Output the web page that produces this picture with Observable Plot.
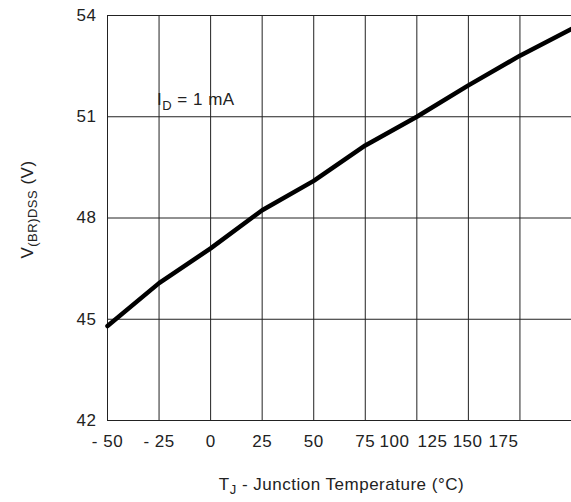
<!DOCTYPE html>
<html><head><meta charset="utf-8">
<script src="https://cdn.jsdelivr.net/npm/d3@7"></script>
<script src="https://cdn.jsdelivr.net/npm/@observablehq/plot@0.6"></script>
<style>body{margin:0;background:#fff}</style>
</head><body><div id="chart"></div>
<script>
const temperature = [-50, -25, 0, 25, 50, 75, 100, 125, 150, 175];
const vbrdss = [44.8, 46.07, 47.1, 48.23, 49.1, 50.15, 51.0, 51.93, 52.81, 53.6];
const xGrid = [-50, -25, 0, 25, 50, 75, 100, 125, 150];
const yGrid = [42, 45, 48, 51, 54];
const yTicks = [42, 45, 48, 51, 54];
const xTickLabels = ["- 50", "- 25", "0", "25", "50", "75", "100", "125", "150", "175"];
const xTickAt = [-50, -25, 0, 25, 50, 75, 89.2, 107.6, 124.6, 142];
const annotations = [{text: "I_{D} = 1 mA", x: -26, y: 51.5}];
const yTitle = "V_{(BR)DSS} (V)";
const xTitle = "T_{J} - Junction Temperature (°C)";

const data = temperature.map((t, i) => ({t, v: vbrdss[i]}));
const ink = "#222";

const plot = Plot.plot({
  width: 571,
  height: 502,
  marginTop: 15,
  marginBottom: 82,
  marginLeft: 107,
  marginRight: 0,
  style: {fontFamily: "Arial, 'Liberation Sans', Helvetica, sans-serif", fontSize: "17px", letterSpacing: "0.5px", color: ink, background: "white"},
  x: {domain: [-50, 175]},
  y: {domain: [42, 54]},
  marks: [
    Plot.ruleX(xGrid, {stroke: ink, strokeWidth: 1}),
    Plot.ruleY(yGrid, {stroke: ink, strokeWidth: 1}),
    Plot.axisY({ticks: yTicks, tickSize: 0, tickPadding: 11, label: null, fill: ink, fontSize: 17}),
    Plot.axisX({ticks: xTickAt, tickFormat: d => xTickLabels[xTickAt.indexOf(d)], tickSize: 0, tickPadding: 14, label: null, fill: ink, fontSize: 17}),
    Plot.line(data, {x: "t", y: "v", stroke: "black", strokeWidth: 4.5, strokeLinejoin: "round"}),
    Plot.text(annotations, {x: "x", y: "y", text: "text", textAnchor: "start", fill: ink, fontSize: 17}),
    Plot.text([yTitle], {frameAnchor: "left", textAnchor: "middle", lineAnchor: "middle", rotate: -90, dx: -80, dy: -8.5, fill: ink, fontSize: 17}),
    Plot.text([xTitle], {frameAnchor: "bottom", textAnchor: "middle", lineAnchor: "middle", dy: 64, dx: 2, fill: ink, fontSize: 17})
  ]
});

function subscripts(svg) {
  const ns = "http://www.w3.org/2000/svg";
  svg.querySelectorAll("text").forEach(t => {
    const s = t.textContent;
    if (!s.includes("_{")) return;
    while (t.firstChild) t.removeChild(t.firstChild);
    const parts = s.split(/(_\{[^}]*\})/);
    let shifted = false;
    parts.forEach(p => {
      if (!p) return;
      const ts = document.createElementNS(ns, "tspan");
      if (p.startsWith("_{")) {
        ts.textContent = p.slice(2, -1);
        ts.setAttribute("font-size", "13");
        ts.setAttribute("dy", "4.5");
        shifted = true;
      } else {
        ts.textContent = p;
        if (shifted) { ts.setAttribute("dy", "-4.5"); shifted = false; }
      }
      t.appendChild(ts);
    });
  });
}
subscripts(plot);
document.getElementById("chart").appendChild(plot);
</script>
</body></html>
